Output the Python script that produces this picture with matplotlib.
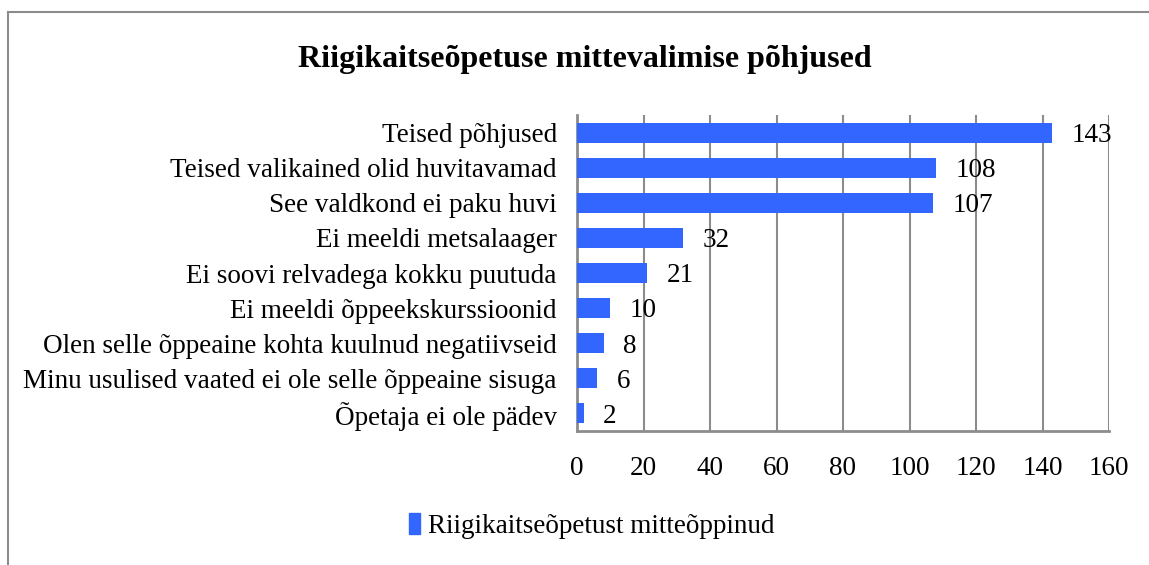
import matplotlib
matplotlib.use("Agg")
import matplotlib.pyplot as plt
from matplotlib.lines import Line2D
from matplotlib.patches import Patch
from matplotlib.transforms import offset_copy

categories = [
    "Teised põhjused",
    "Teised valikained olid huvitavamad",
    "See valdkond ei paku huvi",
    "Ei meeldi metsalaager",
    "Ei soovi relvadega kokku puutuda",
    "Ei meeldi õppeekskurssioonid",
    "Olen selle õppeaine kohta kuulnud negatiivseid",
    "Minu usulised vaated ei ole selle õppeaine sisuga",
    "Õpetaja ei ole pädev",
]
values = [143, 108, 107, 32, 21, 10, 8, 6, 2]
series_name = "Riigikaitseõpetust mitteõppinud"
title = "Riigikaitseõpetuse mittevalimise põhjused"
xticks = [0, 20, 40, 60, 80, 100, 120, 140, 160]

plt.rcParams['font.family'] = ['Liberation Serif', 'DejaVu Serif']

W, H = 1149, 565
fig = plt.figure(figsize=(W / 100, H / 100), dpi=100)
ax = fig.add_axes([577 / W, 1 - 431 / H, (1109 - 577) / W, (431 - 115) / H])

FS = 19.5
bar_color = "#3366FF"
grid_color = "#8c8c8c"
ypos = list(range(len(categories)))[::-1]
ax.barh(ypos, values, height=0.57, color=bar_color, zorder=3)
ax.set_ylim(-0.5, len(categories) - 0.5)
ax.set_xlim(0, 160)
ax.set_xticks(xticks)
ax.set_yticks(ypos)
ax.set_yticklabels(categories, fontsize=FS)
ax.tick_params(axis='x', length=0, pad=18, labelsize=FS)
ax.tick_params(axis='y', length=0, pad=14.5)
ax.xaxis.grid(True, color=grid_color, linewidth=1.5, zorder=1)
for s in ['top', 'right']:
    ax.spines[s].set_visible(False)
ax.spines['left'].set_color(grid_color)
ax.spines['left'].set_linewidth(2)
ax.spines['bottom'].set_color(grid_color)
ax.spines['bottom'].set_linewidth(2)

tr = offset_copy(ax.transData, fig=fig, x=14, y=-2, units='points')
for y, v in zip(ypos, values):
    ax.text(v, y, str(v), transform=tr, va='center', ha='left', fontsize=FS, zorder=4)

fig.text(585 / W, 1 - 60 / H, title, ha='center', va='center', fontsize=23, fontweight='bold')

fig.legend(handles=[Patch(color=bar_color, label=series_name)], loc='center',
           bbox_to_anchor=(592 / W, 1 - 526 / H), frameon=False, fontsize=FS,
           handlelength=0.4, handleheight=0.8, handletextpad=0.3)

# outer frame (left and top visible)
fig.add_artist(Line2D([8 / W, 8 / W], [0, 1 - 12 / H], transform=fig.transFigure, color="#8c8c8c", lw=1.5))
fig.add_artist(Line2D([8 / W, 1], [1 - 12 / H, 1 - 12 / H], transform=fig.transFigure, color="#8c8c8c", lw=1.5))

fig.savefig("out.png", dpi=100)
